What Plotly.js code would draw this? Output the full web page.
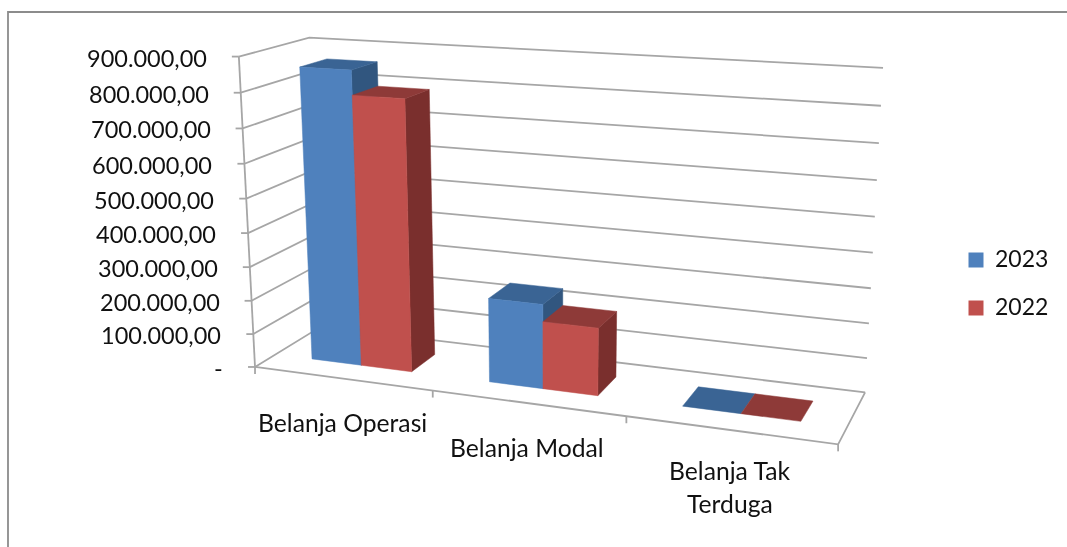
<!DOCTYPE html>
<html>
<head>
<meta charset="utf-8">
<script src="https://cdn.plot.ly/plotly-3.0.1.min.js"></script>
<style>html,body{margin:0;padding:0;background:#fff;overflow:hidden}#plot{width:1067px;height:547px;filter:blur(0.55px)}</style>
</head>
<body>
<div id="plot"></div>
<script>
// ---- data ----
const categories = ["Belanja Operasi", "Belanja Modal", "Belanja Tak Terduga"];
const categoryLines = [["Belanja Operasi"], ["Belanja Modal"], ["Belanja Tak", "Terduga"]];
const seriesNames = ["2023", "2022"];
const values2023 = [860000, 245000, 1500];
const values2022 = [790000, 195000, 1500];
const valueTicks = [0, 100000, 200000, 300000, 400000, 500000, 600000, 700000, 800000, 900000];
const valueTickLabels = ["-", "100.000,00", "200.000,00", "300.000,00", "400.000,00", "500.000,00", "600.000,00", "700.000,00", "800.000,00", "900.000,00"];

// ---- style ----
const faceColors = [
  {front: "#4F81BD", top: "#3A6494", side: "#31567F"},
  {front: "#C0504D", top: "#8E3A38", side: "#7A2F2D"}
];
const gridColor = "#A6A6A6";
const axisMax = 900000;
const FONT = "Lato, 'Open Sans', sans-serif";

// ---- camera: calibrated from the reference's box corners: [u, v, h, px, py] ----
const calib = [
  [0,0,0,255,367],[0,0,1,239,56],[0,1,1,309,38],[3,1,1,883,68],[3,1,0,865,392],[3,0,0,838,444],
  [1,0,0,433,391],[2,0,0,626,416],
  [3,1,8/9,881,106],[3,1,5/9,875,216],[3,1,2/9,869,323],
  [0,0,8/9,241,93],[0,0,5/9,246,199],[0,0,1/9,253,333],
  [0.214,0.3,0,312,359],[0.786,0.3,0,412,372],[0.786,0.7,0,435,354],
  [1.214,0.3,0,490,382],[1.786,0.3,0,597,396],[1.786,0.7,0,616,377],
  [2.214,0.3,0,683,407],[2.786,0.3,0,801,422],[2.214,0.7,0,698,388],[2.786,0.7,0,813,402]
];
function solveCamera(points) {
  const n = 11, A = Array.from({length:n}, () => new Array(n+1).fill(0));
  const add = (r, b) => { for (let i=0;i<n;i++){ for (let j=0;j<n;j++) A[i][j]+=r[i]*r[j]; A[i][n]+=r[i]*b; } };
  points.forEach(([u,v,h,px,py]) => {
    const x=px/1000, y=py/1000;
    add([u,v,h,1,0,0,0,0,-x*u,-x*v,-x*h], x);
    add([0,0,0,0,u,v,h,1,-y*u,-y*v,-y*h], y);
  });
  for (let c=0;c<n;c++){
    let p=c; for (let r=c+1;r<n;r++) if (Math.abs(A[r][c])>Math.abs(A[p][c])) p=r;
    [A[c],A[p]]=[A[p],A[c]];
    for (let r=0;r<n;r++){ if(r===c) continue; const f=A[r][c]/A[c][c]; for(let k=c;k<=n;k++) A[r][k]-=f*A[c][k]; }
  }
  return A.map((row,i)=>row[n]/row[i]);
}
const m = solveCamera(calib);
function proj(u, v, value) {
  const h = value / axisMax;
  const w = m[8]*u + m[9]*v + m[10]*h + 1;
  return [1000*(m[0]*u+m[1]*v+m[2]*h+m[3])/w, 1000*(m[4]*u+m[5]*v+m[6]*h+m[7])/w];
}

const traces = [];
function addLine(pts, color, width) {
  traces.push({type:"scatter", mode:"lines", x:pts.map(p=>p[0]), y:pts.map(p=>p[1]),
    line:{color:color, width:width}, hoverinfo:"skip", showlegend:false});
}
function addFace(pts, color, name) {
  const c = pts.concat([pts[0]]);
  traces.push({type:"scatter", mode:"lines", x:c.map(p=>p[0]), y:c.map(p=>p[1]), fill:"toself",
    fillcolor:color, line:{color:color, width:0.5}, hoverinfo:"skip", showlegend:false, name:name});
}

// chart-area border (runs off the bottom and right of the picture)
addLine([[8,547],[8,12],[1067,12]], "#8C8C8C", 1.8);

// gridlines on side wall and back wall
valueTicks.forEach(t => {
  addLine([proj(0,0,t), proj(0,1,t), proj(3,1,t)], gridColor, 1.8);
  const p = proj(0,0,t);
  addLine([[p[0]-7,p[1]], p], gridColor, 1.8);
});
// floor and axes
addLine([proj(0,0,0), proj(0,0,axisMax)], gridColor, 1.8);
addLine([proj(0,0,0), proj(3,0,0), proj(3,1,0)], gridColor, 1.8);
[0,1,2,3].forEach(i => {
  const p = proj(i,0,0);
  addLine([p, [p[0], p[1]+7]], gridColor, 1.8);
});

// bars
const gap = 1.5, barW = 1/(2+gap), u0 = gap/2*barW, v0 = 0.3, v1 = 0.7;
const allSeries = [values2023, values2022];
categories.forEach((cat, i) => {
  allSeries.forEach((vals, s) => {
    const a = i + u0 + s*barW, b = a + barW, val = vals[i], col = faceColors[s];
    const big = val > 10000;
    if (big) addFace([proj(b,v0,0),proj(b,v1,0),proj(b,v1,val),proj(b,v0,val)], col.side, seriesNames[s]);
    addFace([proj(a,v0,val),proj(b,v0,val),proj(b,v1,val),proj(a,v1,val)], col.top, seriesNames[s]);
    if (big) addFace([proj(a,v0,0),proj(b,v0,0),proj(b,v0,val),proj(a,v0,val)], col.front, seriesNames[s]);
  });
});

// legend
traces.push({type:"scatter", mode:"markers", x:[976,976], y:[260,308],
  marker:{symbol:"square", size:15, color:faceColors.map(c=>c.front)}, hoverinfo:"skip", showlegend:false});
traces.push({type:"scatter", mode:"text", x:[995,995], y:[261,309], text:seriesNames,
  textposition:"middle right", textfont:{family:FONT,size:23,color:"#111"}, hoverinfo:"skip", showlegend:false});

// text labels
const annotations = [];
valueTicks.forEach((t,k) => {
  const p = proj(0,0,t);
  annotations.push({x:p[0]-30, y:p[1]+1, text:valueTickLabels[k], showarrow:false, xanchor:"right", yanchor:"middle", xref:"x", yref:"y", font:{size:23.5}});
});
const labelDrop = [44, 44, 41];
categoryLines.forEach((lines,i) => {
  const p = proj(i+0.5,0,0);
  lines.forEach((line,j) => {
    annotations.push({x:p[0], y:p[1]+labelDrop[i]+33*j, text:line, showarrow:false, xanchor:"center", yanchor:"middle", xref:"x", yref:"y", font:{size:24.7}});
  });
});

Plotly.newPlot("plot", traces, {
  width:1067, height:547, margin:{l:0,r:0,t:0,b:0},
  paper_bgcolor:"#fff", plot_bgcolor:"#fff", showlegend:false,
  font:{family:FONT, size:23, color:"#111"},
  xaxis:{range:[0,1067], visible:false, fixedrange:true},
  yaxis:{range:[547,0], visible:false, fixedrange:true},
  annotations:annotations
}, {displayModeBar:false, staticPlot:true});
</script>
</body>
</html>
